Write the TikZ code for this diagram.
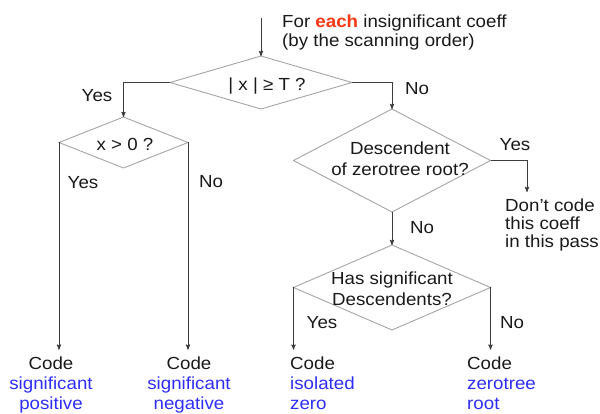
\documentclass[tikz,border=0pt]{standalone}
\usepackage{fontspec}
\setmainfont{Liberation Sans}[FakeStretch=1.07]
\usetikzlibrary{arrows,shapes.geometric}
\definecolor{linegray}{RGB}{60,60,60}
\definecolor{boxgray}{RGB}{165,165,165}
\definecolor{codeblue}{RGB}{45,45,245}
\definecolor{eachred}{RGB}{245,55,20}

\begin{document}
\begin{tikzpicture}[x=1pt,y=-1pt,>=stealth',
  every node/.style={font=\fontsize{17.5}{20}\selectfont,text=black!90},
  test/.style={diamond,draw=boxgray,line width=0.9pt,inner sep=0pt,outer sep=0pt},
  txt/.style={inner sep=0pt,align=center},
  lbl/.style={inner sep=0pt,anchor=base},
  code node/.style={inner sep=0pt,outer ysep=7pt,align=center},
  flow/.style={->,draw=linegray,line width=0.9pt},
  hv/.style={to path={-| (\tikztotarget) \tikztonodes}}]

  \useasboundingbox (0,0) rectangle (600,414);

  % the tests
  \node[test,minimum width=182pt,minimum height=53pt] (1) at (261,82.5) {};
  \node[test,minimum width=129pt,minimum height=51pt] (2) at (123.5,142.5) {};
  \node[test,minimum width=197pt,minimum height=103pt] (3) at (392,160.5) {};
  \node[test,minimum width=197pt,minimum height=85pt] (4) at (392,287.5) {};

  \node[txt] (q1) at (267,86) {| x | ≥ T ?};
  \node[txt] (q2) at (125,144) {x > 0 ?};
  \node[txt,font=\fontsize{17.5}{21}\selectfont] (q3) at (400,158.5) {Descendent\\of zerotree root?};
  \node[txt,font=\fontsize{17.5}{21}\selectfont] (q4) at (392,288.5) {Has significant\\Descendents?};

  \coordinate (start) at (261,18);
  \node[txt,anchor=north west,align=left,font=\fontsize{17.5}{19}\selectfont] (intro) at (282,14.7)
    {For \textcolor{eachred}{\bfseries each} insignificant coeff\\(by the scanning order)};

  % what gets coded
  \node[code node,anchor=north] (pos) at (51,349.7)
    {Code\\\textcolor{codeblue}{significant}\\\textcolor{codeblue}{positive}};
  \node[code node,anchor=north] (neg) at (189,349.7)
    {Code\\\textcolor{codeblue}{significant}\\\textcolor{codeblue}{negative}};
  \node[code node,anchor=north west,align=left] (iso) at (290,349.7)
    {Code\\\textcolor{codeblue}{isolated}\\\textcolor{codeblue}{zero}};
  \node[code node,anchor=north west,align=left] (ztr) at (467,349.7)
    {Code\\\textcolor{codeblue}{zerotree}\\\textcolor{codeblue}{root}};
  \coordinate (skiptip) at (527,192);
  \node[code node,anchor=north west,align=left,font=\fontsize{17.5}{18}\selectfont] (skip) at (505,192)
    {Don't code\\this coeff\\in this pass};

  \path[every edge/.style={flow}]
    (start) edge (1.north)
    (1.west) edge[hv] (2.north)
    (1.east) edge[hv] (3.north)
    (2.west) edge (2.west |- pos.north)
    (2.east) edge (2.east |- neg.north)
    (3.east) edge[hv] (skiptip)
    (3.south) edge (4.north)
    (4.west) edge (4.west |- iso.north)
    (4.east) edge (4.east |- ztr.north);

  \node[lbl] (y1) at (97,102) {Yes};
  \node[lbl] (n1) at (417,95) {No};
  \node[lbl] (y2) at (83,189) {Yes};
  \node[lbl] (n2) at (211,188) {No};
  \node[lbl] (y3) at (515,151) {Yes};
  \node[lbl] (n3) at (422,234) {No};
  \node[lbl] (y4) at (322,328) {Yes};
  \node[lbl] (n4) at (512,328) {No};
\end{tikzpicture}
\end{document}
